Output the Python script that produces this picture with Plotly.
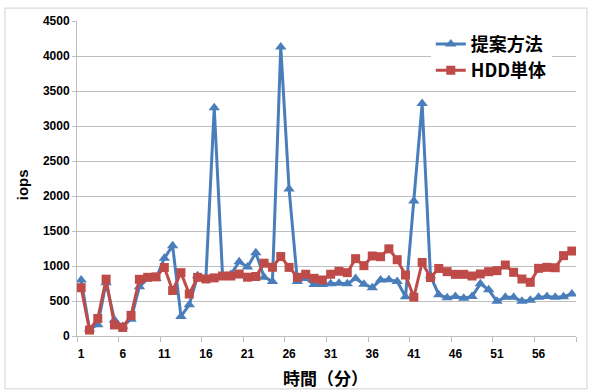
import plotly.graph_objects as go

minutes = list(range(1, 61))
teian = [800, 100, 160, 760, 230, 140, 240, 705, 820, 820,
         1110, 1290, 280, 445, 860, 830, 3260, 870, 880, 1060,
         985, 1190, 840, 780, 4130, 2100, 780, 820, 735, 735,
         745, 755, 745, 820, 740, 690, 800, 805, 780, 560,
         1930, 3320, 860, 590, 545, 565, 540, 565, 745, 660,
         495, 552, 552, 495, 510, 552, 565, 552, 562, 600]
hdd = [690, 85, 250, 812, 158, 122, 295, 810, 838, 845,
       978, 650, 905, 600, 838, 815, 830, 857, 857, 885,
       840, 850, 1040, 982, 1135, 980, 838, 882, 824, 800,
       882, 925, 905, 1105, 1005, 1143, 1133, 1245, 1090, 871,
       555, 1050, 836, 965, 919, 881, 881, 857, 886, 919,
       933, 1014, 910, 814, 767, 967, 981, 975, 1148, 1214]
xtick_vals = [1, 6, 11, 16, 21, 26, 31, 36, 41, 46, 51, 56]
xtick_text = [str(v) for v in xtick_vals]
xmark_vals = [0.5 + 5 * k for k in range(13)]
ytick_vals = list(range(0, 4501, 500))

BLUE = "#4A7EBB"
RED = "#BE4B48"
GRID = "#BFBFBF"
LAT = "Liberation Sans"
CJK = "Noto Sans CJK JP"

fig = go.Figure()
# invisible helper trace so the tick-mark axis (category boundaries) is drawn
fig.add_trace(go.Scatter(x=minutes, y=hdd, xaxis="x2", mode="markers",
                         marker=dict(opacity=0), showlegend=False, hoverinfo="skip"))
fig.add_trace(go.Scatter(x=minutes, y=teian, name="提案方法", mode="lines+markers",
                         line=dict(color=BLUE, width=3),
                         marker=dict(symbol="triangle-up", size=10, color=BLUE)))
fig.add_trace(go.Scatter(x=minutes, y=hdd, name="HDD単体", mode="lines+markers",
                         line=dict(color=RED, width=3),
                         marker=dict(symbol="square", size=9, color=RED)))

fig.update_layout(
    width=590, height=392,
    margin=dict(l=77, r=14, t=21, b=56, autoexpand=False),
    paper_bgcolor="white", plot_bgcolor="white",
    font=dict(family=LAT, size=12, color="black"),
    xaxis=dict(range=[0.5, 60.5], tickvals=xtick_vals, ticktext=xtick_text,
               ticks="outside", ticklen=7, tickcolor="rgba(0,0,0,0)",
               showgrid=False, showline=True, linecolor=GRID, linewidth=1,
               tickfont=dict(family=LAT, size=12, weight="bold"),
               automargin=False, zeroline=False),
    xaxis2=dict(range=[0.5, 60.5], overlaying="x", anchor="y", side="bottom",
                tickvals=xmark_vals, ticks="outside", ticklen=5, tickcolor=GRID,
                showticklabels=False, showgrid=False, showline=False, zeroline=False,
                automargin=False),
    yaxis=dict(range=[0, 4500], tickvals=ytick_vals, ticks="outside", ticklen=4,
               tickcolor=GRID, showgrid=True, gridcolor=GRID, gridwidth=1,
               showline=True, linecolor=GRID, linewidth=1, zeroline=False,
               tickfont=dict(family=LAT, size=12, weight="bold"),
               automargin=False),
    legend=dict(x=0.709, y=0.985, xanchor="left", yanchor="top",
                bgcolor="white", borderwidth=0,
                font=dict(family=CJK, size=18, weight="bold"),
                itemwidth=30, tracegroupgap=0),
    showlegend=True,
    annotations=[
        dict(text="iops", xref="paper", yref="paper", x=-0.110, y=0.479,
             textangle=-90, showarrow=False, xanchor="center", yanchor="middle",
             font=dict(family=LAT, size=15, weight="bold")),
        dict(text="時間（分）", xref="paper", yref="paper", x=0.497, y=-0.133,
             showarrow=False, xanchor="center", yanchor="middle",
             font=dict(family=CJK, size=17, weight="bold")),
    ],
    shapes=[dict(type="rect", xref="paper", yref="paper",
                 x0=-0.1443, x1=1.022, y0=-0.168, y1=1.041,
                 line=dict(color="#D0D0D0", width=1), fillcolor="rgba(0,0,0,0)",
                 layer="below")],
)

fig.write_html("out.html", config={"displayModeBar": False},
               post_script="document.body.style.margin='0';")
